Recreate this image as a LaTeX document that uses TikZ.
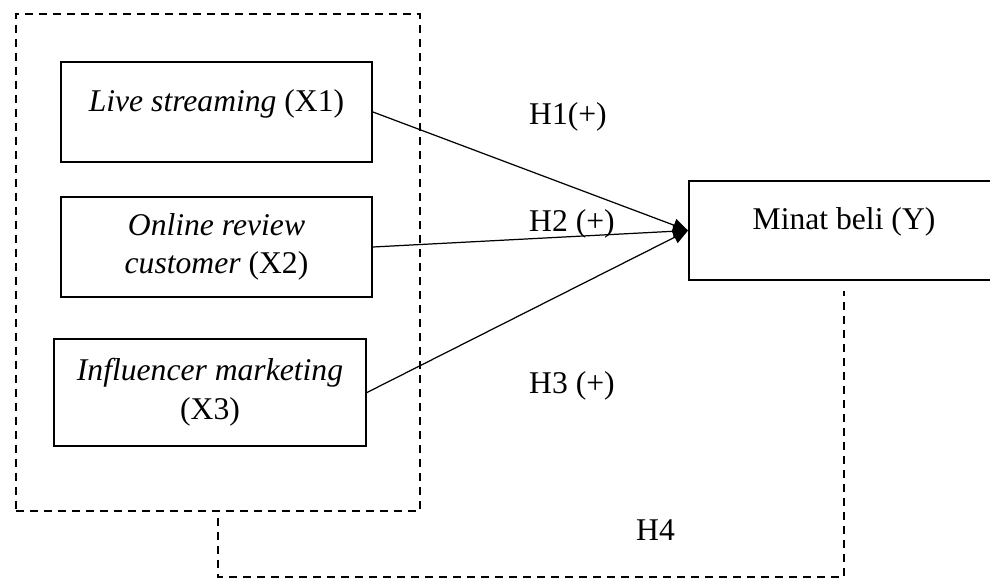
\documentclass[tikz,border=0pt]{standalone}
\usepackage{fontspec}
\setmainfont{Liberation Serif}
\usetikzlibrary{arrows.meta, calc}

\begin{document}
\begin{tikzpicture}[>={Triangle[length=0.3cm, width=0.26cm]}, font=\fontsize{18}{22}\selectfont,
  var/.style={draw, rectangle, line width=1.1pt, align=center, inner sep=0pt},
  grpbox/.style={draw, line width=1.1pt, dash pattern=on 0.16cm off 0.12cm},
  hline/.style={line width=0.7pt}]
\useasboundingbox (0,0) rectangle (19.8,-11.58);
\node[var, minimum width=6.22cm, minimum height=2cm, text height=13pt, text depth=14pt] (x1) at (4.33,-2.24) {\textit{Live streaming} (X1)};
\node[var, minimum width=6.22cm, minimum height=2cm] (x2) at (4.33,-4.94) {\textit{Online review}\\\textit{customer} (X2)};
\node[var, minimum width=6.24cm, minimum height=2.14cm] (x3) at (4.20,-7.85) {\textit{Influencer marketing}\\(X3)};
\node[var, minimum width=6.2cm, minimum height=1.98cm, text height=13pt, text depth=14pt] (y) at (16.88,-4.61) {Minat beli (Y)};
\node[grpbox, minimum width=8.08cm, minimum height=9.94cm] (grp) at (4.36,-5.25) {};
% hypotheses
\draw[->, hline] (x1.east) -- (y.west);
\draw[->, hline] (x2.east) -- (y.west);
\draw[->, hline] (x3.east) -- (y.west);
\draw[grpbox] ([yshift=-0.12cm]grp.south) -- ++(0,-1.18) -| ([yshift=-0.2cm]y.south);
\node[anchor=west] (h1) at (10.46,-2.34) {H1(+)};
\node[anchor=west] (h2) at (10.46,-4.48) {H2 (+)};
\node[anchor=west] (h3) at (10.46,-7.72) {H3 (+)};
\node[anchor=west] (h4) at (12.6,-10.6) {H4};
\end{tikzpicture}
\end{document}
